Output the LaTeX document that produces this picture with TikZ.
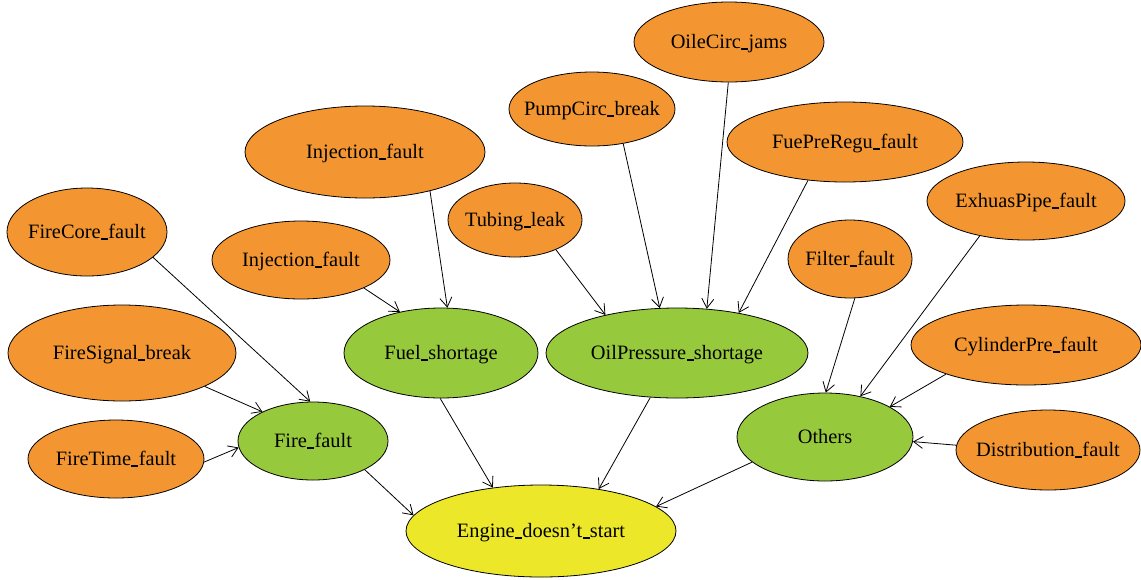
\documentclass[tikz,border=0pt]{standalone}
\usepackage{fontspec}
\setmainfont{Liberation Serif}
\usetikzlibrary{shapes.geometric,arrows.meta}
\definecolor{ora}{HTML}{F39631}
\definecolor{grn}{HTML}{97C93D}
\definecolor{yel}{HTML}{EDE72A}
\newcommand\us{\kern0.3pt\rule[-0.7pt]{5.2pt}{1.1pt}\kern0.3pt}
\newcommand\lbl[1]{\makebox[0pt]{\raisebox{-0.33em}[0pt][0pt]{#1}}}
\begin{document}
\begin{tikzpicture}[x=0.75pt,y=-0.75pt,
  ev/.style n args={2}{ellipse,draw,line width=0.6pt,inner sep=0pt,
     minimum width={#1*1.5pt},minimum height={#2*1.5pt},
     font=\fontsize{15.3}{18}\selectfont},
  leaf/.style={fill=ora},
  mid/.style={fill=grn},
  top/.style={fill=yel},
  edge/.style={draw,line width=0.6pt,-{Straight Barb[length=7pt,width=9pt]}}]
\useasboundingbox (0,0) rectangle (1141,579);
% leaves
\node[ev={95}{40},leaf] (oile) at (729,42) {\lbl{OileCirc\us jams}};
\node[ev={83}{37},leaf] (pump) at (592,109) {\lbl{PumpCirc\us break}};
\node[ev={118}{40},leaf] (fpr) at (845,142) {\lbl{FuePreRegu\us fault}};
\node[ev={120}{46},leaf] (inja) at (365,152) {\lbl{Injection\us fault}};
\node[ev={67}{37},leaf] (tub) at (515,220) {\lbl{Tubing\us leak}};
\node[ev={99}{39},leaf] (exh) at (1026,201) {\lbl{ExhuasPipe\us fault}};
\node[ev={80}{44},leaf] (core) at (87,232) {\lbl{FireCore\us fault}};
\node[ev={89}{39},leaf] (injb) at (301,260) {\lbl{Injection\us fault}};
\node[ev={62}{39},leaf] (filt) at (850,259) {\lbl{Filter\us fault}};
\node[ev={114}{48},leaf] (sig) at (122,353) {\lbl{FireSignal\us break}};
\node[ev={115}{40},leaf] (cyl) at (1026,345) {\lbl{CylinderPre\us fault}};
\node[ev={88}{39},leaf] (ftime) at (116,459) {\lbl{FireTime\us fault}};
\node[ev={92}{40},leaf] (dist) at (1048,450) {\lbl{Distribution\us fault}};
% middle
\node[ev={97}{45},mid] (fuel) at (441,353) {\lbl{Fuel\us shortage}};
\node[ev={131}{45},mid] (oilp) at (677,353) {\lbl{OilPressure\us shortage}};
\node[ev={88}{44},mid] (oth) at (825,437) {\lbl{Others}};
\node[ev={75}{39},mid] (fire) at (313,441) {\lbl{Fire\us fault}};
% top
\node[ev={135}{46},top] (eng) at (541,531) {\lbl{Engine\us doesn't\us start}};
% edges
\draw[edge] (core.-21) -- (fire.94);
\draw[edge] (sig.-22) -- (fire.150);
\draw[edge] (ftime.-2) -- (fire.185);
\draw[edge] (injb.-24) -- (fuel.135);
\draw[edge] (inja.-31) -- (fuel.82);
\draw[edge] (tub.-36) -- (oilp.152);
\draw[edge] (pump.-48) -- (oilp.111);
\draw[edge] (oile.-91) -- (oilp.56);
\draw[edge] (fpr.-134) -- (oilp.33);
\draw[edge] (fuel.-91) -- (eng.138);
\draw[edge] (oilp.-121) -- (eng.36);
\draw[edge] (fire.-29) -- (eng.173);
\draw[edge] (oth.-161) -- (eng.12);
\draw[edge] (filt.-83) -- (oth.89);
\draw[edge] (exh.-143) -- (oth.49);
\draw[edge] (cyl.-160) -- (oth.25);
\draw[edge] (dist.177) -- (oth.-3);
\end{tikzpicture}
\end{document}
